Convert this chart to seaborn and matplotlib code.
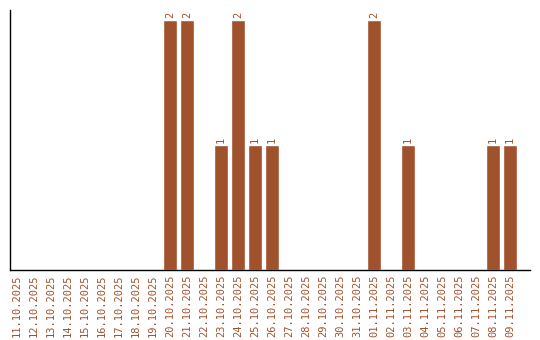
import matplotlib
matplotlib.use("Agg")
import matplotlib.pyplot as plt
import seaborn as sns
import pandas as pd

dates = ["11.10.2025", "12.10.2025", "13.10.2025", "14.10.2025", "15.10.2025",
         "16.10.2025", "17.10.2025", "18.10.2025", "19.10.2025", "20.10.2025",
         "21.10.2025", "22.10.2025", "23.10.2025", "24.10.2025", "25.10.2025",
         "26.10.2025", "27.10.2025", "28.10.2025", "29.10.2025", "30.10.2025",
         "31.10.2025", "01.11.2025", "02.11.2025", "03.11.2025", "04.11.2025",
         "05.11.2025", "06.11.2025", "07.11.2025", "08.11.2025", "09.11.2025"]
counts = [0, 0, 0, 0, 0, 0, 0, 0, 0, 2,
          2, 0, 1, 2, 1, 1, 0, 0, 0, 0,
          0, 2, 0, 1, 0, 0, 0, 0, 1, 1]

color = "#A0522D"
df = pd.DataFrame({"date": dates, "count": counts})

sns.set_style("white")
plt.rcParams['font.family'] = ['DejaVu Sans Mono']

fig = plt.figure(figsize=(5.4, 3.4), dpi=100)
ax = fig.add_axes([10/540, 70/340, 520/540, 260/340])
sns.barplot(data=df, x="date", y="count", color=color, saturation=1, width=0.8, ax=ax)

for i, v in enumerate(counts):
    if v > 0:
        ax.text(i, v + 0.02, str(v), rotation=90, ha="center", va="bottom",
                fontsize=7.5, color=color)

ax.set_xlim(-0.41, 30.18)
ax.set_ylim(0, 2.08)
ax.set_xlabel("")
ax.set_ylabel("")
ax.set_yticks([])
ax.tick_params(axis="x", length=0, pad=3, labelsize=7.5, labelcolor=color)
for lbl in ax.get_xticklabels():
    lbl.set_rotation(90)
for s in ["top", "right"]:
    ax.spines[s].set_visible(False)
for s in ["left", "bottom"]:
    ax.spines[s].set_color("black")
    ax.spines[s].set_linewidth(1)

fig.savefig("out.png", dpi=100)
